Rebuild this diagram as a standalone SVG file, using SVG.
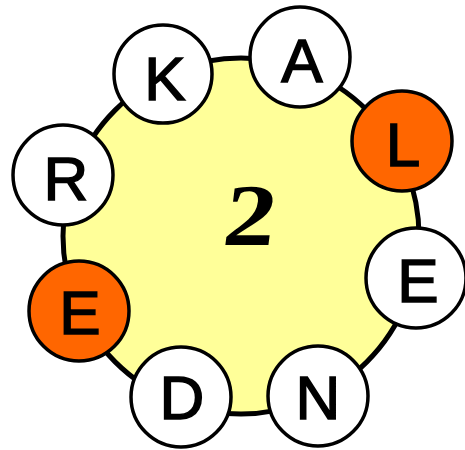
<svg xmlns="http://www.w3.org/2000/svg" width="465" height="450" viewBox="0 0 465 450">
<style>
.big{fill:#ffff99;stroke:#000;stroke-width:5}
.n{fill:#fff;stroke:#000;stroke-width:3.5}
.o{fill:#ff6600;stroke:#000;stroke-width:3.5}
.t{font-family:"Liberation Sans",Arial,sans-serif;font-size:62px;text-anchor:middle;fill:#000;stroke:#000;stroke-width:1.5}
.c{font-family:"Liberation Serif","Times New Roman",serif;font-weight:bold;font-size:88px;text-anchor:middle;fill:#000}
</style>
<rect width="465" height="450" fill="#fff"/>
<g id="center">
<circle class="big" cx="241" cy="236" r="178"/>
<text class="c" transform="translate(247,245) scale(1.18,1) skewX(-6)" x="0" y="0">2</text>
</g>
<g id="nodeK"><circle class="n" cx="163" cy="74" r="49"/><text class="t" x="165" y="100">K</text></g>
<g id="nodeA"><circle class="n" cx="300" cy="57" r="50"/><text class="t" x="302" y="82">A</text></g>
<g id="nodeL"><circle class="o" cx="402" cy="141" r="50"/><text class="t" x="403" y="166">L</text></g>
<g id="nodeE1"><circle class="n" cx="416" cy="278" r="50"/><text class="t" x="418" y="302">E</text></g>
<g id="nodeN"><circle class="n" cx="318" cy="396" r="50"/><text class="t" x="318" y="419">N</text></g>
<g id="nodeD"><circle class="n" cx="181" cy="397" r="50"/><text class="t" x="182" y="419">D</text></g>
<g id="nodeE2"><circle class="o" cx="79" cy="311" r="50"/><text class="t" x="80" y="334">E</text></g>
<g id="nodeR"><circle class="n" cx="63" cy="175" r="50"/><text class="t" x="66" y="200">R</text></g>
<g id="connectors"></g>
</svg>
